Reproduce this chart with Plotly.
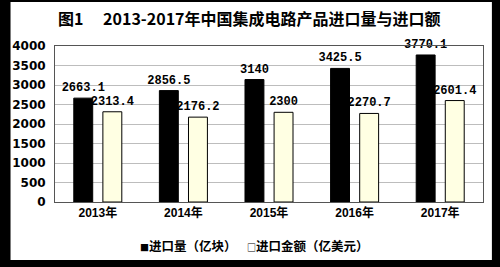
import plotly.graph_objects as go

years = ["2013年", "2014年", "2015年", "2016年", "2017年"]
volume = [2663.1, 2856.5, 3140, 3425.5, 3770.1]       # 进口量（亿块）
value = [2313.4, 2176.2, 2300, 2270.7, 2601.4]        # 进口金额（亿美元）
volume_labels = ["2663.1", "2856.5", "3140", "3425.5", "3770.1"]
value_labels = ["2313.4", "2176.2", "2300", "2270.7", "2601.4"]
title_text = "图1\u3000 2013-2017年中国集成电路产品进口量与进口额"
legend_names = ["进口量（亿块）", "进口金额（亿美元）"]
legend_marks = ["■", "□"]

W, H = 500, 267
L, R, T, B = 50, 17, 46, 65
pw, ph = W - L - R, H - T - B

def px_x(x):
    return (x - L) / pw

def px_y(y):
    return (H - B - y) / ph

label_font = dict(family="Liberation Mono, monospace", size=12, color="black", weight="bold")

fig = go.Figure()
fig.add_trace(go.Bar(
    x=years, y=volume, name=legend_names[0],
    marker=dict(color="black", line=dict(color="black", width=1)),
    text=volume_labels, textposition="outside", textfont=label_font,
    constraintext="none", cliponaxis=False,
))
fig.add_trace(go.Bar(
    x=years, y=value, name=legend_names[1],
    marker=dict(color="#FFFFE3", line=dict(color="black", width=1)),
    text=value_labels, textposition="outside", textfont=label_font,
    constraintext="none", cliponaxis=False,
))

legend_ann = []
for mark, name, xpix in zip(legend_marks, legend_names, [134, 242]):
    legend_ann.append(dict(
        text="<b><span style='font-size:9px'>" + mark + "</span>" + name + "</b>",
        xref="paper", yref="paper", x=px_x(xpix), y=px_y(245), showarrow=False,
        font=dict(family="Noto Sans CJK SC", size=12.5, color="black"),
        xanchor="left", yanchor="middle"))

fig.update_layout(
    width=W, height=H,
    margin=dict(l=L, r=R, t=T, b=B),
    paper_bgcolor="black",
    plot_bgcolor="white",
    barmode="group",
    bargap=0.32,
    bargroupgap=0.35,
    showlegend=False,
    shapes=[
        dict(type="rect", xref="paper", yref="paper",
             x0=px_x(5), x1=px_x(492), y0=px_y(260), y1=px_y(2),
             fillcolor="white", line=dict(width=0), layer="below"),
    ],
    annotations=[
        dict(text="<b>" + title_text + "</b>", xref="paper", yref="paper",
             x=px_x(247), y=px_y(18), showarrow=False,
             font=dict(family="Noto Sans CJK SC", size=16, color="black"),
             xanchor="center", yanchor="middle"),
    ] + legend_ann,
)

fig.update_xaxes(
    showgrid=False, ticks="", showline=True, linecolor="#555555", linewidth=1,
    mirror=True,
    tickfont=dict(family="Liberation Sans, Noto Sans CJK SC", size=12, color="black", weight="bold"),
)
fig.update_yaxes(
    range=[0, 4000], dtick=500, showgrid=True, gridcolor="#BDBDBD", gridwidth=1,
    ticks="", showline=True, linecolor="#555555", linewidth=1, mirror=True,
    zeroline=False, ticklabelstandoff=6,
    tickfont=dict(family="DejaVu Sans", size=12, color="black", weight="bold"),
)

fig.write_html("out.html")
